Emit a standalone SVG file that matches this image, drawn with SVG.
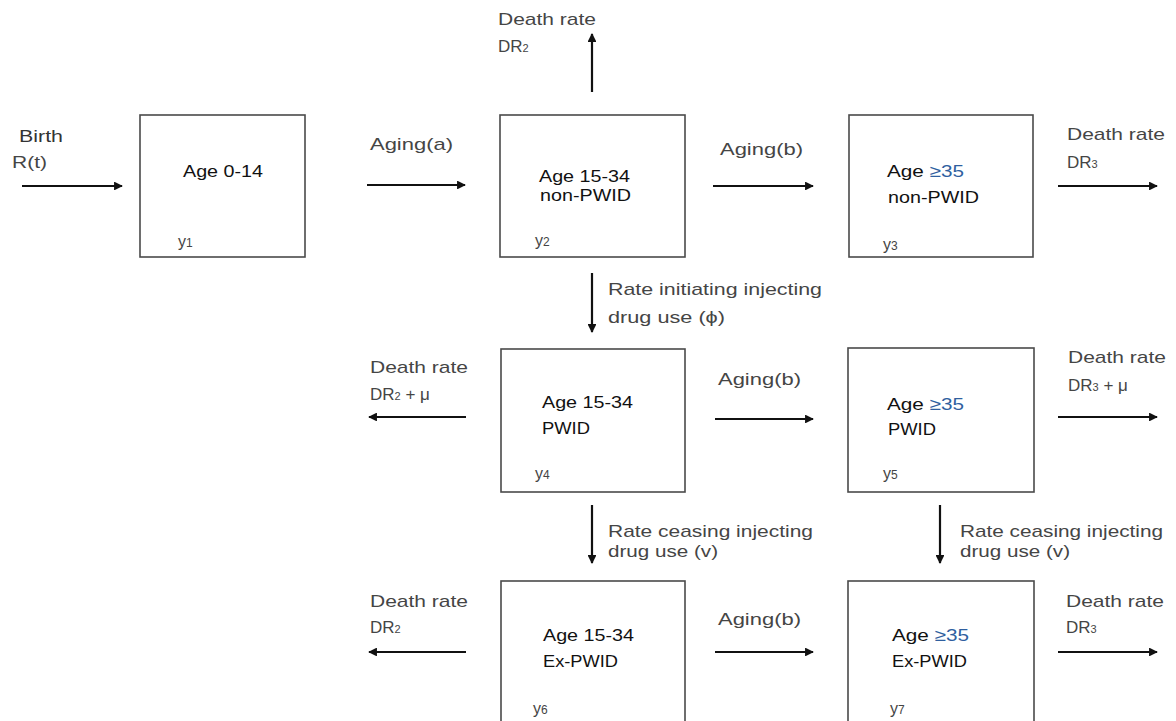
<svg xmlns="http://www.w3.org/2000/svg" width="1176" height="721" viewBox="0 0 1176 721">
<style>
.box{fill:#fff;stroke:#4a4a4a;stroke-width:1.6}
.lbl{font-family:"Liberation Sans",Arial,sans-serif;font-size:17px;fill:#454545}
.nt{font-family:"Liberation Sans",Arial,sans-serif;font-size:17px;fill:#111}
.yl{font-family:"Liberation Sans",Arial,sans-serif;font-size:16px;fill:#444}
.sub{font-size:11px}
.ysub{font-size:12px}
.ge{fill:#2f5f9f}
.arr{stroke:#111;stroke-width:2.2;fill:none;marker-end:url(#ah)}
</style>
<defs>
<marker id="ah" viewBox="0 0 10 10" refX="9" refY="5" markerWidth="4" markerHeight="4" orient="auto" markerUnits="strokeWidth">
<path d="M0,0 L10,5 L0,10 z" fill="#111"/>
</marker>
</defs>
<rect width="1176" height="721" fill="#fff"/>
<g id="connectors">
<line class="arr" x1="22" y1="186" x2="122" y2="186"/>
<line class="arr" x1="367" y1="185" x2="465" y2="185"/>
<line class="arr" x1="592" y1="92" x2="592" y2="34"/>
<line class="arr" x1="713" y1="186" x2="813" y2="186"/>
<line class="arr" x1="1058" y1="186" x2="1157" y2="186"/>
<line class="arr" x1="592" y1="273" x2="592" y2="332"/>
<line class="arr" x1="466" y1="417" x2="369" y2="417"/>
<line class="arr" x1="715" y1="419" x2="813" y2="419"/>
<line class="arr" x1="1058" y1="417" x2="1157" y2="417"/>
<line class="arr" x1="592" y1="505" x2="592" y2="563"/>
<line class="arr" x1="940" y1="505" x2="940" y2="563"/>
<line class="arr" x1="466" y1="652" x2="369" y2="652"/>
<line class="arr" x1="715" y1="652" x2="813" y2="652"/>
<line class="arr" x1="1058" y1="652" x2="1157" y2="652"/>
</g>
<g id="labels">
<text class="lbl" x="19" y="142" textLength="44" lengthAdjust="spacingAndGlyphs" style="fill:#333">Birth</text>
<text class="lbl" x="12" y="168" textLength="35" lengthAdjust="spacingAndGlyphs">R(t)</text>
<text class="lbl" x="370" y="150" textLength="83" lengthAdjust="spacingAndGlyphs">Aging(a)</text>
<text class="lbl" x="498" y="25" textLength="98" lengthAdjust="spacingAndGlyphs">Death rate</text>
<text class="lbl" x="498" y="52">DR<tspan class="sub">2</tspan></text>
<text class="lbl" x="720" y="155" textLength="83" lengthAdjust="spacingAndGlyphs">Aging(b)</text>
<text class="lbl" x="1067" y="140" textLength="98" lengthAdjust="spacingAndGlyphs">Death rate</text>
<text class="lbl" x="1067" y="168">DR<tspan class="sub">3</tspan></text>
<text class="lbl" x="608" y="295" textLength="214" lengthAdjust="spacingAndGlyphs">Rate initiating injecting</text>
<text class="lbl" x="608" y="323" textLength="117" lengthAdjust="spacingAndGlyphs">drug use (ϕ)</text>
<text class="lbl" x="370" y="373" textLength="98" lengthAdjust="spacingAndGlyphs">Death rate</text>
<text class="lbl" x="370" y="400">DR<tspan class="sub">2</tspan> + μ</text>
<text class="lbl" x="718" y="385" textLength="83" lengthAdjust="spacingAndGlyphs">Aging(b)</text>
<text class="lbl" x="1068" y="363" textLength="98" lengthAdjust="spacingAndGlyphs">Death rate</text>
<text class="lbl" x="1068" y="391">DR<tspan class="sub">3</tspan> + μ</text>
<text class="lbl" x="608" y="537" textLength="205" lengthAdjust="spacingAndGlyphs">Rate ceasing injecting</text>
<text class="lbl" x="608" y="557" textLength="110" lengthAdjust="spacingAndGlyphs">drug use (v)</text>
<text class="lbl" x="960" y="537" textLength="203" lengthAdjust="spacingAndGlyphs">Rate ceasing injecting</text>
<text class="lbl" x="960" y="557" textLength="110" lengthAdjust="spacingAndGlyphs">drug use (v)</text>
<text class="lbl" x="370" y="607" textLength="98" lengthAdjust="spacingAndGlyphs">Death rate</text>
<text class="lbl" x="370" y="633">DR<tspan class="sub">2</tspan></text>
<text class="lbl" x="718" y="625" textLength="83" lengthAdjust="spacingAndGlyphs">Aging(b)</text>
<text class="lbl" x="1066" y="607" textLength="98" lengthAdjust="spacingAndGlyphs">Death rate</text>
<text class="lbl" x="1066" y="633">DR<tspan class="sub">3</tspan></text>
</g>
<g id="node-y1">
<rect class="box" x="140" y="115" width="165" height="142"/>
<text class="nt" x="183" y="177" textLength="80" lengthAdjust="spacingAndGlyphs">Age 0-14</text>
<text class="yl" x="178" y="247">y<tspan class="ysub">1</tspan></text>
</g>
<g id="node-y2">
<rect class="box" x="500" y="115" width="185" height="142"/>
<text class="nt" x="539" y="182" textLength="91" lengthAdjust="spacingAndGlyphs">Age 15-34</text>
<text class="nt" x="540" y="201" textLength="91" lengthAdjust="spacingAndGlyphs">non-PWID</text>
<text class="yl" x="535" y="246">y<tspan class="ysub">2</tspan></text>
</g>
<g id="node-y3">
<rect class="box" x="849" y="115" width="184" height="142"/>
<text class="nt" x="887" y="177" textLength="77" lengthAdjust="spacingAndGlyphs">Age  <tspan class="ge">≥35</tspan></text>
<text class="nt" x="888" y="203" textLength="91" lengthAdjust="spacingAndGlyphs">non-PWID</text>
<text class="yl" x="883" y="250">y<tspan class="ysub">3</tspan></text>
</g>
<g id="node-y4">
<rect class="box" x="501" y="349" width="184" height="143"/>
<text class="nt" x="542" y="408" textLength="91" lengthAdjust="spacingAndGlyphs">Age 15-34</text>
<text class="nt" x="542" y="434" textLength="48" lengthAdjust="spacingAndGlyphs">PWID</text>
<text class="yl" x="535" y="479">y<tspan class="ysub">4</tspan></text>
</g>
<g id="node-y5">
<rect class="box" x="848" y="348" width="186" height="144"/>
<text class="nt" x="887" y="410" textLength="77" lengthAdjust="spacingAndGlyphs">Age  <tspan class="ge">≥35</tspan></text>
<text class="nt" x="888" y="435" textLength="48" lengthAdjust="spacingAndGlyphs">PWID</text>
<text class="yl" x="883" y="479">y<tspan class="ysub">5</tspan></text>
</g>
<g id="node-y6">
<rect class="box" x="501" y="581" width="184" height="150"/>
<text class="nt" x="543" y="641" textLength="91" lengthAdjust="spacingAndGlyphs">Age 15-34</text>
<text class="nt" x="543" y="667" textLength="75" lengthAdjust="spacingAndGlyphs">Ex-PWID</text>
<text class="yl" x="533" y="714">y<tspan class="ysub">6</tspan></text>
</g>
<g id="node-y7">
<rect class="box" x="848" y="581" width="186" height="150"/>
<text class="nt" x="892" y="641" textLength="77" lengthAdjust="spacingAndGlyphs">Age  <tspan class="ge">≥35</tspan></text>
<text class="nt" x="892" y="667" textLength="75" lengthAdjust="spacingAndGlyphs">Ex-PWID</text>
<text class="yl" x="890" y="714">y<tspan class="ysub">7</tspan></text>
</g>
</svg>
